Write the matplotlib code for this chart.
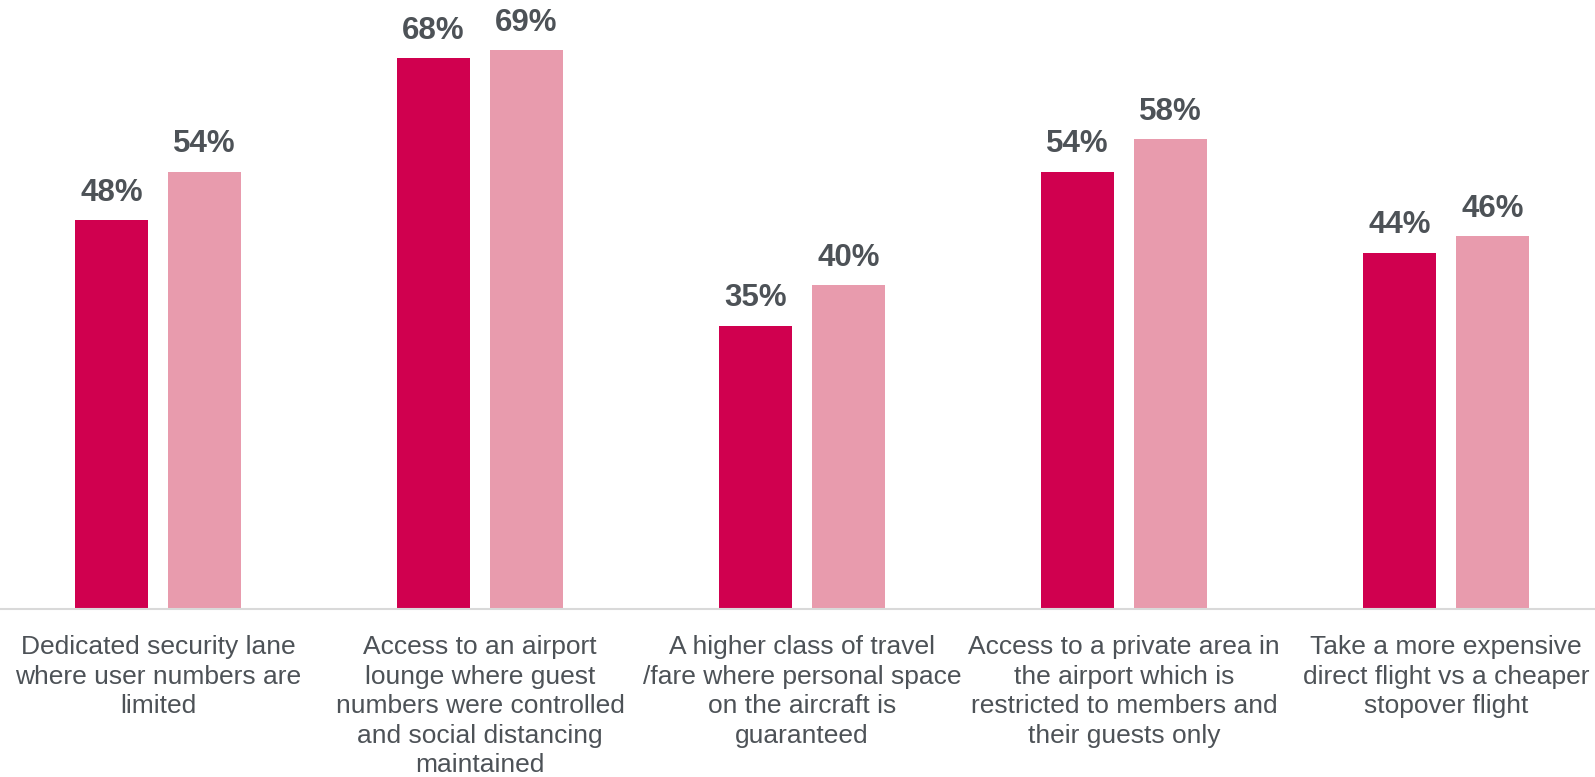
import matplotlib.pyplot as plt
import numpy as np

plt.rcParams['font.family'] = ['Liberation Sans', 'DejaVu Sans']

categories = [
    "Dedicated security lane\nwhere user numbers are\nlimited",
    "Access to an airport\nlounge where guest\nnumbers were controlled\nand social distancing\nmaintained",
    "A higher class of travel\n/fare where personal space\non the aircraft is\nguaranteed",
    "Access to a private area in\nthe airport which is\nrestricted to members and\ntheir guests only",
    "Take a more expensive\ndirect flight vs a cheaper\nstopover flight",
]
series_a = [48, 68, 35, 54, 44]
series_b = [54, 69, 40, 58, 46]

dark = '#D0004F'
light = '#E89BAD'
txt = '#4D5257'

fig = plt.figure(figsize=(15.95, 7.77), dpi=100)
ax = fig.add_axes([0, 0.2162, 1, 0.7838])

x = np.arange(len(categories))
w = 0.226
off = 0.1445
b1 = ax.bar(x - off, series_a, w, color=dark)
b2 = ax.bar(x + off, series_b, w, color=light)

for bars, vals in ((b1, series_a), (b2, series_b)):
    for r, v in zip(bars, vals):
        ax.annotate(f"{v}%", (r.get_x() + r.get_width() / 2, v),
                    xytext=(0, 9), textcoords='offset points',
                    ha='center', va='bottom', fontsize=22.5,
                    fontweight='bold', color=txt)

ax.set_xlim(-0.491, 4.463)
ax.set_ylim(0, 75.2)
ax.set_yticks([])
ax.set_xticks(x)
ax.set_xticklabels(categories, fontsize=19, color=txt, linespacing=1.29)
ax.tick_params(axis='x', length=0, pad=19)
for s in ['top', 'left', 'right']:
    ax.spines[s].set_visible(False)
ax.spines['bottom'].set_color('#D9D9D9')
ax.spines['bottom'].set_linewidth(1.5)

fig.savefig('out.png', dpi=100)
